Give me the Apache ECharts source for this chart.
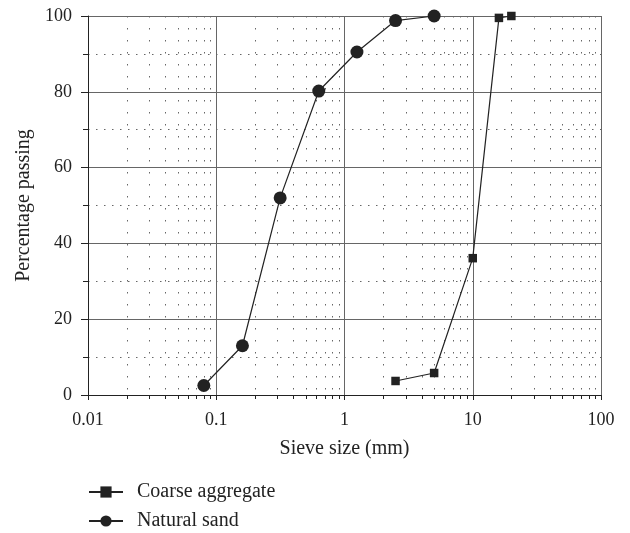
<!DOCTYPE html>
<html>
<head>
<meta charset="utf-8">
<script src="https://cdn.jsdelivr.net/npm/echarts@6/dist/echarts.min.js"></script>
<style>
  html, body { margin: 0; padding: 0; background: #fff; }
  #chart { width: 630px; height: 533px; }
</style>
</head>
<body>
<div id="chart"></div>
<script>
// Grading curves: percentage passing vs sieve size (mm)
const coarseSieve = [2.5, 5, 10, 16, 20];
const coarsePassing = [3.7, 5.8, 36.1, 99.5, 100];
const sandSieve = [0.08, 0.16, 0.315, 0.63, 1.25, 2.5, 5];
const sandPassing = [2.5, 13, 52, 80.2, 90.5, 98.8, 100];

// Intermediate sieve-size gridlines within each decade
const minorX = [
  0.02, 0.03, 0.04, 0.05, 0.06, 0.07, 0.08, 0.09,
  0.2, 0.3, 0.4, 0.5, 0.6, 0.7, 0.8, 0.9,
  2, 3, 4, 5, 6, 7, 8, 9,
  20, 30, 40, 50, 60, 70, 80, 90
];

const FONT = "'Liberation Serif', 'Times New Roman', serif";
const INK = '#222';
const GRID = '#666';

const chart = echarts.init(document.getElementById('chart'), null, { renderer: 'canvas' });

chart.setOption({
  animation: false,
  backgroundColor: '#fff',
  textStyle: { fontFamily: FONT, color: INK },
  grid: { left: 88, right: 29, top: 16, bottom: 138, containLabel: false },
  legend: {
    data: ['Coarse aggregate', 'Natural sand'],
    orient: 'vertical',
    left: 88,
    top: 482,
    padding: 0,
    itemWidth: 34,
    itemHeight: 14,
    itemGap: 9,
    textStyle: { fontFamily: FONT, fontSize: 20, color: INK, padding: [0, 0, 0, 9] }
  },
  xAxis: {
    type: 'log',
    logBase: 10,
    min: 0.01,
    max: 100,
    splitNumber: 4,
    name: 'Sieve size (mm)',
    nameLocation: 'middle',
    nameGap: 44,
    nameTextStyle: { fontFamily: FONT, fontSize: 20, color: INK },
    axisLine: { lineStyle: { color: INK, width: 1 } },
    axisTick: { show: true, length: 5, lineStyle: { color: INK } },
    axisLabel: { fontFamily: FONT, fontSize: 18, color: INK, margin: 16 },
    splitLine: { show: true, lineStyle: { color: GRID, width: 1 } }
  },
  yAxis: {
    type: 'value',
    min: 0,
    max: 100,
    interval: 20,
    name: 'Percentage passing',
    nameLocation: 'middle',
    nameGap: 50,
    nameTextStyle: { fontFamily: FONT, fontSize: 20, color: INK },
    axisLine: { show: true, lineStyle: { color: INK, width: 1 } },
    axisTick: { show: true, length: 7, lineStyle: { color: INK } },
    minorTick: { show: true, splitNumber: 2, length: 5, lineStyle: { color: INK } },
    axisLabel: { fontFamily: FONT, fontSize: 18, color: INK, margin: 16 },
    splitLine: { show: true, lineStyle: { color: GRID, width: 1 } },
    minorSplitLine: { show: true, lineStyle: { color: GRID, width: 1, type: [1.5, 6.5] } }
  },
  series: [
    {
      // dotted minor gridlines and bottom minor ticks at intermediate sieve sizes
      type: 'custom',
      name: 'minor',
      silent: true,
      clip: false,
      z: 1,
      data: minorX.map(v => [v, 0]),
      renderItem: function (params, api) {
        const x = api.value(0);
        const top = api.coord([x, 100]);
        const bot = api.coord([x, 0]);
        const px = Math.round(top[0]) + 0.5;
        return {
          type: 'group',
          children: [
            {
              type: 'line',
              shape: { x1: px, y1: top[1], x2: px, y2: bot[1] },
              style: { stroke: GRID, lineWidth: 1, lineDash: [1.5, 10.5] }
            },
            {
              type: 'line',
              shape: { x1: px, y1: bot[1], x2: px, y2: bot[1] + 4 },
              style: { stroke: INK, lineWidth: 1 }
            }
          ]
        };
      }
    },
    {
      name: 'Coarse aggregate',
      type: 'line',
      data: coarseSieve.map((s, i) => [s, coarsePassing[i]]),
      symbol: 'rect',
      symbolSize: 8.5,
      clip: false,
      z: 5,
      itemStyle: { color: INK },
      lineStyle: { color: INK, width: 1.2 }
    },
    {
      name: 'Natural sand',
      type: 'line',
      data: sandSieve.map((s, i) => [s, sandPassing[i]]),
      symbol: 'circle',
      symbolSize: 13,
      clip: false,
      z: 5,
      itemStyle: { color: INK },
      lineStyle: { color: INK, width: 1.2 }
    }
  ]
});
</script>
</body>
</html>
